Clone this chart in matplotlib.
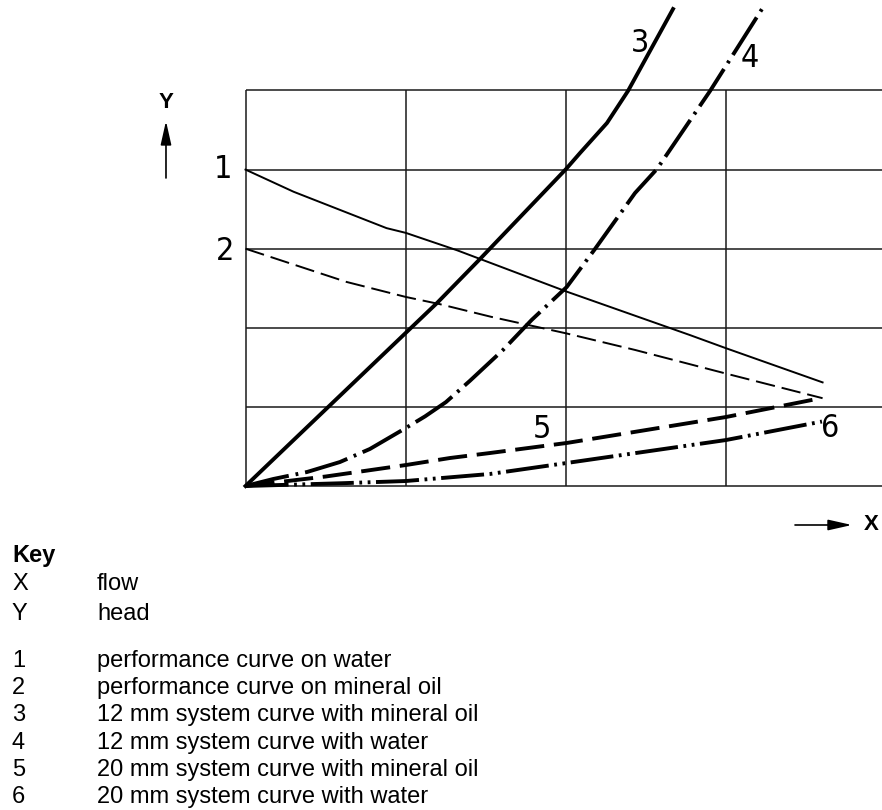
import matplotlib
matplotlib.use('Agg')
import matplotlib.pyplot as plt

plt.rcParams['lines.scale_dashes'] = False

# curve values in grid units (x: flow, y: head; one grid cell = 1)
perf_water_x = [0, 0.30, 0.88, 1.00, 1.32, 2.00, 2.77, 3.00, 3.60]
perf_water_y = [4.00, 3.72, 3.26, 3.20, 2.98, 2.46, 1.91, 1.74, 1.31]

perf_oil_x = [0, 0.63, 1.00, 1.21, 1.53, 2.00, 2.43, 3.00, 3.60]
perf_oil_y = [3.00, 2.58, 2.39, 2.30, 2.14, 1.93, 1.72, 1.42, 1.11]

sys12_oil_x = [0, 1.195, 1.463, 2.00, 2.087, 2.255, 2.386, 2.667]
sys12_oil_y = [0, 2.314, 2.870, 4.008, 4.210, 4.589, 4.994, 6.030]

sys12_water_x = [0, 0.172, 0.384, 0.589, 0.776, 1.00, 1.12, 1.25, 1.40, 1.606, 1.785, 2.004, 2.180, 2.430, 2.567, 2.898, 3.222]
sys12_water_y = [0, 0.088, 0.177, 0.303, 0.468, 0.733, 0.88, 1.06, 1.33, 1.719, 2.099, 2.516, 2.996, 3.704, 4.008, 4.994, 6.030]

sys20_oil_x = [0, 0.50, 1.00, 1.276, 1.525, 2.004, 2.997, 3.596]
sys20_oil_y = [0, 0.12, 0.265, 0.354, 0.417, 0.544, 0.872, 1.113]

sys20_water_x = [0, 0.60, 1.00, 1.525, 2.004, 2.997, 3.596]
sys20_water_y = [0, 0.035, 0.063, 0.152, 0.291, 0.581, 0.815]

key_symbols = ['X', 'Y', '1', '2', '3', '4', '5', '6']
key_texts = ['flow', 'head',
             'performance curve on water',
             'performance curve on mineral oil',
             '12 mm system curve with mineral oil',
             '12 mm system curve with water',
             '20 mm system curve with mineral oil',
             '20 mm system curve with water']

W, H = 882, 810
fig = plt.figure(figsize=(W / 100, H / 100), dpi=100)
ax = fig.add_axes([0, 0, 1, 1])
# grid origin at pixel (245.5, 486), cell 160.3 x 79.1 px
ax.set_xlim(-245.5 / 160.3, (W - 245.5) / 160.3)
ax.set_ylim((486 - H) / 79.1, 486 / 79.1)
ax.axis('off')

grid_kw = dict(color='#1a1a1a', lw=1.1, solid_capstyle='butt')
for yv in range(6):
    ax.plot([0, 5], [yv, yv], **grid_kw)
for xv in range(4):
    ax.plot([xv, xv], [0, 5], **grid_kw)

thin = 1.4
thick = 2.8
ax.plot(perf_water_x, perf_water_y, color='black', lw=thin)
ax.plot(perf_oil_x, perf_oil_y, color='black', lw=thin, linestyle=(0, (14, 5)))
ax.plot(sys12_oil_x, sys12_oil_y, color='black', lw=thick)
ax.plot(sys12_water_x, sys12_water_y, color='black', lw=thick,
        linestyle=(0, (32, 5, 2, 5)))
ax.plot(sys20_oil_x, sys20_oil_y, color='black', lw=thick, linestyle=(0, (21, 7)))
ax.plot(sys20_water_x, sys20_water_y, color='black', lw=thick,
        linestyle=(0, (31, 4, 2, 4, 2, 4)))

# curve numbers
num_kw = dict(fontsize=23, family='DejaVu Sans', fontstretch='condensed',
              fontweight='light', ha='center', va='center')
ax.text(-0.140, 4.00, '1', **num_kw)
ax.text(-0.128, 2.97, '2', **num_kw)
ax.text(2.461, 5.60, '3', **num_kw)
ax.text(3.147, 5.41, '4', **num_kw)
ax.text(1.848, 0.71, '5', **num_kw)
ax.text(3.646, 0.73, '6', **num_kw)

# axis arrows
arrow_kw = dict(arrowstyle='-|>,head_length=0.8,head_width=0.18', lw=1.2,
                color='black', mutation_scale=18, shrinkA=0, shrinkB=0)
ax.annotate('', xy=(-0.496, 4.614), xytext=(-0.496, 3.894), arrowprops=arrow_kw)
ax.annotate('', xy=(3.783, -0.493), xytext=(3.428, -0.493), arrowprops=arrow_kw)
ax.text(-0.496, 4.842, 'Y', fontsize=16, fontweight='bold', family='Liberation Sans',
        ha='center', va='center')
ax.text(3.902, -0.493, 'X', fontsize=16, fontweight='bold', family='Liberation Sans',
        ha='center', va='center')

# key
def fig_xy(px, py):
    return px / W, 1 - py / H

fig.text(*fig_xy(12, 562), 'Key', fontsize=17, fontweight='bold',
         family='Liberation Sans', va='baseline')
baselines = [590, 620, 667, 694, 721, 749, 776, 803]
for sym, txt, by in zip(key_symbols, key_texts, baselines):
    fig.text(*fig_xy(12, by), sym, fontsize=17, family='Liberation Sans', va='baseline')
    fig.text(*fig_xy(97, by), txt, fontsize=17, family='Liberation Sans', va='baseline')

fig.savefig('out.png', dpi=100)
